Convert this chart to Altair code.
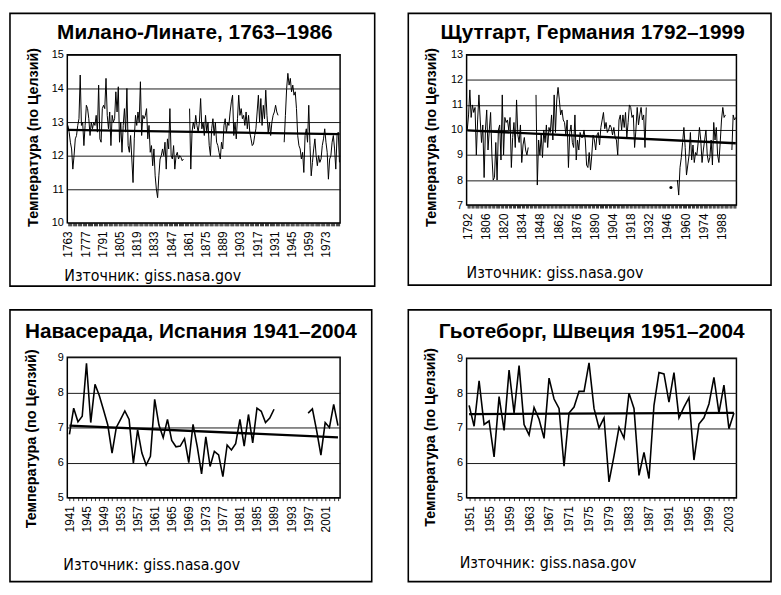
import altair as alt
import pandas as pd

SOURCE = "Източник: giss.nasa.gov"
Y_TITLE = "Температура (по Целзий)"

# ---------------- Милано-Линате ----------------
milan_title = "Милано-Линате, 1763–1986"
milan_years = list(range(1763, 1985))
milan_temp = [
    12.9, 12.7, 12.4, 12.2, 11.6, 12.0, 12.5, 12.6, 12.9, 13.1,
    14.4, 12.9, 13.0, 12.3, 12.9, 13.5, 13.4, 13.1, 12.6, 13.0,
    12.8, 13.0, 12.9, 13.2, 12.7, 14.1, 12.5, 12.4, 13.4, 13.5,
    13.4, 14.3, 13.2, 12.8, 13.3, 12.3, 13.2, 13.0, 13.1, 13.9,
    13.3, 14.05, 12.4, 13.0, 12.1, 12.9, 13.4, 12.7, 14.0, 12.3,
    12.1, 12.6, 11.9, 11.2, 12.5, 13.2, 12.9, 13.3, 13.0, 14.2,
    12.6, 13.2, 13.1, 13.2, 13.4, 12.5, 12.9, 12.1, 12.3, 11.7,
    12.2, 11.4, 11.0, 10.75, 11.4, 11.9, 12.0, 12.2, 12.0, 12.4,
    11.6, 12.5, 12.2, 13.4, 12.0, 11.9, 12.3, 11.6, 12.0, 12.1,
    11.9, 12.0, 11.95, 11.85, 11.9, None, None, None, None, 13.4,
    11.6, 12.7, 13.0, 12.8, 13.2, 12.9, 12.7, 13.0, 13.7, 12.8,
    13.0, 12.6, 13.2, 12.7, 13.0, 12.3, 12.0, 12.8, 13.1, 12.6,
    13.0, 12.4, 12.3, 12.1, 11.9, 12.4, 12.2, 12.9, 13.1, 12.7,
    13.0, 12.9, 13.3, 13.6, 13.8, 12.6, 13.0, 12.5, 13.1, 13.8,
    13.2, 13.4, 13.1, 13.2, 12.9, 13.3, 12.8, 13.2, 12.7, 12.5,
    12.3, 12.35, 12.6, 12.8, 13.3, 13.8, 13.0, 13.7, 12.9, 13.5,
    13.1, 13.95, 13.2, 12.7, 13.0, 12.6, 13.0, 13.2, 13.3, 13.5,
    13.3, 13.2, None, None, None, None, 12.4, 13.2, 14.0, 14.45,
    14.1, 14.3, 13.9, 14.1, 13.8, 13.9, 13.4, 12.6, 12.3, 12.2,
    11.9, 12.1, 11.5, 12.6, 12.8, 12.4, 13.5, 12.3, 11.4, 11.8,
    12.2, 12.5, 12.0, 11.7, 12.0, 11.8, 11.9, 12.3, 12.5, 12.8,
    12.4, 12.1, 11.3, 11.9, 12.0, 12.4, 12.6, 12.2, 11.6, 12.6,
    12.7, 11.8,
]
milan_trend_years = [1763, 1984]
milan_trend = [12.77, 12.64]
milan_labels = [1763, 1777, 1791, 1805, 1819, 1833, 1847, 1861, 1875,
                1889, 1903, 1917, 1931, 1945, 1959, 1973]
milan_yticks = [10, 11, 12, 13, 14, 15]

# ---------------- Щутгарт ----------------
stutt_title = "Щутгарт, Германия 1792–1999"
stutt_years = list(range(1792, 2000))
stutt_temp = [
    10.0, 10.6, 11.6, 10.5, 11.0, 10.7, 10.9, 9.0, 10.4, 11.4,
    10.4, 9.5, 10.2, 8.1, 10.0, 10.8, 9.2, 10.0, 10.7, 9.0,
    8.0, 8.1, 9.5, 8.0, 10.0, 10.2, 8.8, 11.4, 9.0, 10.5,
    10.3, 10.4, 10.0, 10.5, 8.5, 9.7, 10.3, 9.3, 11.2, 9.8,
    9.5, 10.2, 8.7, 9.4, 9.7, 9.2, 9.0, 9.3, None, None,
    None, None, None, 11.4, 7.8, 9.6, 9.0, 9.8, 8.9, 10.0,
    9.5, 10.2, 9.3, 10.1, 9.9, 10.6, 9.6, 11.4, 9.9, 11.2,
    11.7, 11.2, 10.6, 10.8, 10.4, 10.3, 9.8, 10.4, 8.5, 9.9,
    10.2, 9.5, 9.3, 10.6, 8.8, 9.6, 9.2, 9.9, 9.7, 9.7,
    10.0, 9.6, 8.6, 8.5, 9.1, 8.4, 9.0, 9.8, 9.6, 9.2,
    9.8, 9.9, 9.4, 10.1, 10.4, 10.7, 10.05, 10.3, 9.9, 10.0,
    10.2, 10.1, 9.8, 10.1, 9.7, 9.6, 9.0, 10.4, 10.6, 10.0,
    10.6, 10.1, 10.7, 9.7, 10.3, 11.0, 10.9, 10.5, 10.6, 9.3,
    10.0, 10.9, 10.2, 10.6, 10.9, 10.4, 10.6, 9.3, 10.9, None,
    None, None, None, None, None, None, None, None, None, None,
    None, None, None, None, None, None, None, 7.7, None, None,
    None, None, 8.0, 7.4, 8.5, 8.9, 9.5, 10.1, 9.3, 8.2,
    8.6, 9.0, 9.9, 8.8, 9.4, 8.7, 9.1, 9.0, 9.5, 10.1,
    9.6, 8.7, 9.2, 9.6, 10.0, 9.0, 8.7, 8.9, 9.6, 8.6,
    10.3, 9.6, 10.1, 9.0, 8.7, 9.5, 10.4, 10.9, 10.5, 10.6,
    None, None, None, None, 9.2, 10.6, 10.4, 10.5,
]
stutt_trend_years = [1792, 1999]
stutt_trend = [9.98, 9.47]
stutt_labels = [1792, 1806, 1820, 1834, 1848, 1862, 1876, 1890, 1904,
                1918, 1932, 1946, 1960, 1974, 1988]
stutt_yticks = [7, 8, 9, 10, 11, 12, 13]

# ---------------- Навасерада ----------------
nav_title = "Навасерада, Испания 1941–2004"
nav_years = list(range(1941, 2005))
nav_temp = [
    6.8, 7.55, 7.16, 7.32, 8.83, 7.14, 8.23, 7.91, 7.50, 7.07,
    6.27, 7.0, 7.23, 7.47, 7.23, 5.98, 6.93, 6.27, 5.93, 6.18,
    7.80, 7.07, 6.71, 7.23, 6.63, 6.45, 6.47, 6.68, 6.0, 7.09,
    6.45, 5.68, 6.73, 5.89, 6.32, 6.22, 5.60, 6.50, 6.36, 6.54,
    7.23, 6.47, 7.37, 6.56, 7.55, 7.46, 7.14, 7.27, 7.52, None,
    None, None, None, None, None, None, 7.41, 7.53, 6.91, 6.21,
    7.14, 7.0, 7.66, 7.05,
]
nav_trend_years = [1941, 2004]
nav_trend = [7.05, 6.72]
nav_labels = [1941, 1945, 1949, 1953, 1957, 1961, 1965, 1969, 1973,
              1977, 1981, 1985, 1989, 1993, 1997, 2001]
nav_yticks = [5, 6, 7, 8, 9]

# ---------------- Гьотеборг ----------------
got_title = "Гьотеборг, Швеция 1951–2004"
got_years = list(range(1951, 2005))
got_temp = [
    7.65, 7.05, 8.35, 7.1, 7.2, 6.17, 7.9, 6.93, 8.66, 7.43,
    8.79, 7.1, 6.8, 7.59, 7.25, 6.7, 8.43, 7.83, 7.56, 5.9,
    7.43, 7.6, 8.05, 8.05, 8.87, 7.56, 7.0, 7.29, 5.45, 6.2,
    7.02, 6.71, 8.0, 7.56, 5.64, 6.3, 5.55, 7.65, 8.59, 8.55,
    7.74, 8.59, 7.29, 7.6, 7.87, 6.08, 7.11, 7.29, 7.69, 8.45,
    7.43, 8.23, 6.98, 7.43,
]
got_trend_years = [1951, 2004]
got_trend = [7.40, 7.43]
got_labels = [1951, 1955, 1959, 1963, 1967, 1971, 1975, 1979, 1983,
              1987, 1991, 1995, 1999, 2003]
got_yticks = [5, 6, 7, 8, 9]

FONT = "Liberation Sans"
NARROW = "Liberation Sans Narrow, DejaVu Sans Condensed, Liberation Sans"


def panel(title, years, temps, t_years, t_vals, labels, yticks,
          w, h, m_left, m_right, m_top, m_bottom,
          title_dx, title_y, ytitle_x, ytitle_dy, src_dx, src_y, line_w):
    df = pd.DataFrame({"year": years, "temp": temps})
    df["seg"] = df["temp"].isna().cumsum()
    df = df.dropna().copy()
    df["n"] = df.groupby("seg")["temp"].transform("size")

    x_dom = [years[0] - 0.5, years[-1] + 0.5]
    label_expr = ("indexof([" + ",".join(str(v) for v in labels)
                  + "], datum.value) >= 0 ? datum.label : ''")
    x = alt.X("year:Q",
              scale=alt.Scale(domain=x_dom, nice=False, zero=False),
              axis=alt.Axis(values=years, labelExpr=label_expr, format="d",
                            labelAngle=270, labelFontSize=12,
                            labelFont=FONT, labelColor="black",
                            labelPadding=5, tickSize=3, tickWidth=0.8,
                            tickColor="black", domain=False, grid=False,
                            title=None, labelOverlap=False, labelFlush=False))
    y = alt.Y("temp:Q",
              scale=alt.Scale(domain=[yticks[0], yticks[-1]], nice=False,
                              zero=False),
              axis=alt.Axis(values=yticks, format="d", title=Y_TITLE,
                            titleFont=FONT, titleFontSize=14.5,
                            titleFontWeight="bold", titleColor="black",
                            titleAngle=270, titleX=ytitle_x,
                            titleY=h / 2 + ytitle_dy, titleAlign="center",
                            titleBaseline="middle",
                            labelFont=FONT, labelFontSize=11,
                            labelColor="black", labelPadding=4,
                            tickSize=0, domain=False, grid=True,
                            gridColor="#1a1a1a", gridWidth=1))

    base = alt.Chart(df)
    line = base.mark_line(color="black", strokeWidth=line_w).encode(
        x=x, y=y, detail="seg:N")
    dots = base.transform_filter("datum.n == 1").mark_circle(
        color="black", size=10, opacity=1).encode(x=x, y=y)
    trend = alt.Chart(pd.DataFrame({"year": t_years, "temp": t_vals})).mark_line(
        color="black", strokeWidth=2.3).encode(x=x, y=y)
    border = alt.Chart(pd.DataFrame({"k": [0]})).mark_rect(
        fillOpacity=0, stroke="black", strokeWidth=1.6).encode(
        x=alt.value(-m_left), x2=alt.value(w + m_right),
        y=alt.value(-m_top), y2=alt.value(h + m_bottom))
    ttl = alt.Chart(pd.DataFrame({"t": [title]})).mark_text(
        font=FONT, fontSize=21, fontWeight="bold", color="black",
        align="center", baseline="alphabetic").encode(
        text="t:N", x=alt.value(w / 2 + title_dx), y=alt.value(title_y))
    src = alt.Chart(pd.DataFrame({"t": [SOURCE]})).mark_text(
        font=NARROW, fontSize=16, color="black",
        align="left", baseline="alphabetic").encode(
        text="t:N", x=alt.value(src_dx), y=alt.value(h + src_y))
    return alt.layer(line, dots, trend, border, ttl, src).properties(
        width=w, height=h)


p1 = panel(milan_title, milan_years, milan_temp, milan_trend_years, milan_trend,
           milan_labels, milan_yticks, 276, 170, 58, 35, 42, 64,
           -9, -16, -34, -2, -3, 59, 1.0)
p2 = panel(stutt_title, stutt_years, stutt_temp, stutt_trend_years, stutt_trend,
           stutt_labels, stutt_yticks, 273, 152, 59, 35, 42, 81,
           -9, -16, -35.5, 7, 0, 74, 1.0)
p3 = panel(nav_title, nav_years, nav_temp, nav_trend_years, nav_trend,
           nav_labels, nav_yticks, 276, 142, 58, 32, 48, 85,
           -13, -20, -36, 11, -4, 73, 1.6)
p4 = panel(got_title, got_years, got_temp, got_trend_years, got_trend,
           got_labels, got_yticks, 273, 141, 59, 35, 49, 85,
           -10, -21, -36.5, 9, -7, 71, 1.6)

chart = alt.concat(p1, p2, p3, p4, columns=2, align="none",
                   spacing=alt.RowColnumber(row=20, column=30)).properties(
    padding=0, background="white"
).configure_view(stroke="black", strokeWidth=1.5)

chart.save("out.html", embed_options={"renderer": "svg", "actions": False})
